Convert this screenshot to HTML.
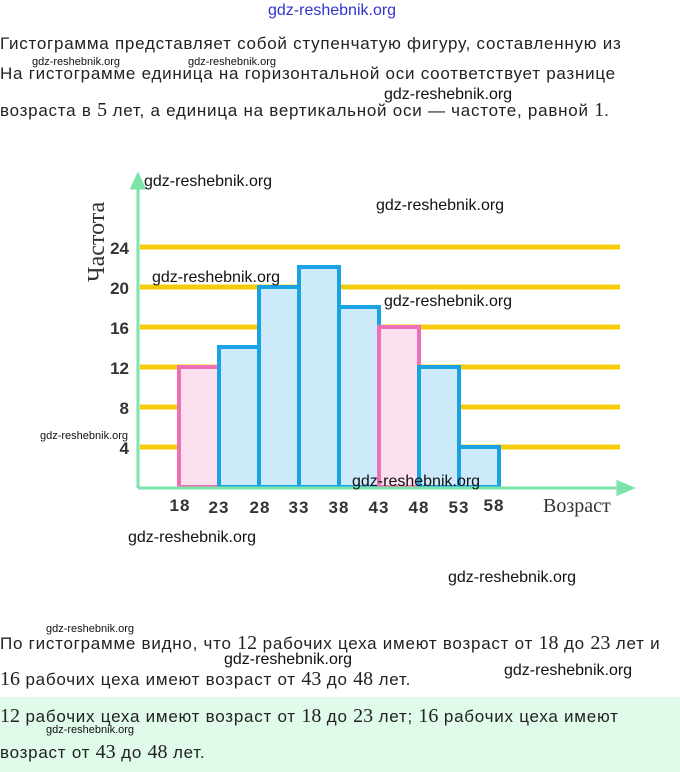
<!DOCTYPE html>
<html><head><meta charset="utf-8"><style>
body{margin:0;width:680px;height:772px;background:#fff;position:relative;overflow:hidden;font-family:"Liberation Sans",sans-serif;color:#222}
.t{position:absolute;left:0;font-size:17px;letter-spacing:0.75px;white-space:nowrap}
.w{position:absolute;font-family:"Liberation Sans",sans-serif;color:#111;white-space:nowrap}
.n{font-family:"Liberation Serif",serif;font-size:20px;letter-spacing:0}
</style></head><body>
<div class="w" style="left:268px;top:2px;font-size:16px;color:#3333cc">gdz-reshebnik.org</div>
<div class="t" style="top:34px">Гистограмма представляет собой ступенчатую фигуру, составленную из</div>
<div class="w" style="left:32px;top:56px;font-size:11px">gdz-reshebnik.org</div>
<div class="w" style="left:188px;top:56px;font-size:11px">gdz-reshebnik.org</div>
<div class="t" style="top:64px">На гистограмме единица на горизонтальной оси соответствует разнице</div>
<div class="w" style="left:384px;top:86px;font-size:16px">gdz-reshebnik.org</div>
<div class="t" style="top:99px">возраста в <span class="n">5</span> лет, а единица на вертикальной оси — частоте, равной <span class="n">1</span>.</div>

<svg style="position:absolute;left:0;top:0" width="680" height="620">
<g stroke="#f5cc0a" stroke-width="5">
<line x1="140" y1="247" x2="620" y2="247"/><line x1="140" y1="287" x2="620" y2="287"/><line x1="140" y1="327" x2="620" y2="327"/>
<line x1="140" y1="367" x2="620" y2="367"/><line x1="140" y1="407" x2="620" y2="407"/><line x1="140" y1="447" x2="620" y2="447"/>
</g>
<g stroke-width="4">
<rect x="179" y="367" width="40" height="120" fill="#fde0ef" stroke="#ee6fb5"/>
<rect x="219" y="347" width="40" height="140" fill="#cdeafa" stroke="#1aa3e4"/>
<rect x="259" y="287" width="40" height="200" fill="#cdeafa" stroke="#1aa3e4"/>
<rect x="299" y="267" width="40" height="220" fill="#cdeafa" stroke="#1aa3e4"/>
<rect x="339" y="307" width="40" height="180" fill="#cdeafa" stroke="#1aa3e4"/>
<rect x="379" y="327" width="40" height="160" fill="#fde0ef" stroke="#ee6fb5"/>
<rect x="419" y="367" width="40" height="120" fill="#cdeafa" stroke="#1aa3e4"/>
<rect x="459" y="447" width="40" height="40" fill="#cdeafa" stroke="#1aa3e4"/>
</g>
<g stroke="#7de3a8" stroke-width="3" fill="#7de3a8">
<line x1="138" y1="488" x2="138" y2="185"/><polygon points="132,188 138,175 144,188"/>
<line x1="138" y1="488" x2="620" y2="488"/><polygon points="618,482 632,488 618,494"/>
</g>
<g font-family="Liberation Sans" font-weight="bold" font-size="17" fill="#333" text-anchor="end">
<text x="129" y="254">24</text><text x="129" y="294">20</text><text x="129" y="334">16</text><text x="129" y="374">12</text><text x="129" y="414">8</text><text x="129" y="454">4</text>
</g>
<g font-family="Liberation Sans" font-weight="bold" font-size="17" fill="#333" text-anchor="middle" letter-spacing="1">
<text x="180" y="511">18</text><text x="219" y="513">23</text><text x="260" y="513">28</text><text x="299" y="513">33</text><text x="339" y="513">38</text><text x="379" y="513">43</text><text x="419" y="513">48</text><text x="459" y="513">53</text><text x="494" y="511">58</text>
</g>
<text x="543" y="512" font-family="Liberation Serif" font-size="20" fill="#333">Возраст</text>
<text transform="translate(104,282) rotate(-90)" font-family="Liberation Serif" font-size="24" fill="#333">Частота</text>
<g font-family="Liberation Sans" font-size="16" fill="#111">
<text x="144" y="186">gdz-reshebnik.org</text><text x="376" y="210">gdz-reshebnik.org</text>
<text x="152" y="282">gdz-reshebnik.org</text><text x="384" y="306">gdz-reshebnik.org</text>
<text x="352" y="486">gdz-reshebnik.org</text><text x="128" y="542">gdz-reshebnik.org</text>
<text x="448" y="582">gdz-reshebnik.org</text>
<text x="40" y="439" font-size="11">gdz-reshebnik.org</text>
</g>
</svg>

<div class="w" style="left:46px;top:623px;font-size:11px">gdz-reshebnik.org</div>
<div class="t" style="top:632px">По гистограмме видно, что <span class="n">12</span> рабочих цеха имеют возраст от <span class="n">18</span> до <span class="n">23</span> лет и</div>
<div class="w" style="left:224px;top:651px;font-size:16px">gdz-reshebnik.org</div>
<div class="w" style="left:504px;top:662px;font-size:16px">gdz-reshebnik.org</div>
<div class="t" style="top:668px"><span class="n">16</span> рабочих цеха имеют возраст от <span class="n">43</span> до <span class="n">48</span> лет.</div>
<div style="position:absolute;left:0;top:697px;width:680px;height:75px;background:#e0fbea"></div>
<div class="t" style="top:705px"><span class="n">12</span> рабочих цеха имеют возраст от <span class="n">18</span> до <span class="n">23</span> лет; <span class="n">16</span> рабочих цеха имеют</div>
<div class="w" style="left:46px;top:724px;font-size:11px">gdz-reshebnik.org</div>
<div class="t" style="top:741px">возраст от <span class="n">43</span> до <span class="n">48</span> лет.</div>
</body></html>
